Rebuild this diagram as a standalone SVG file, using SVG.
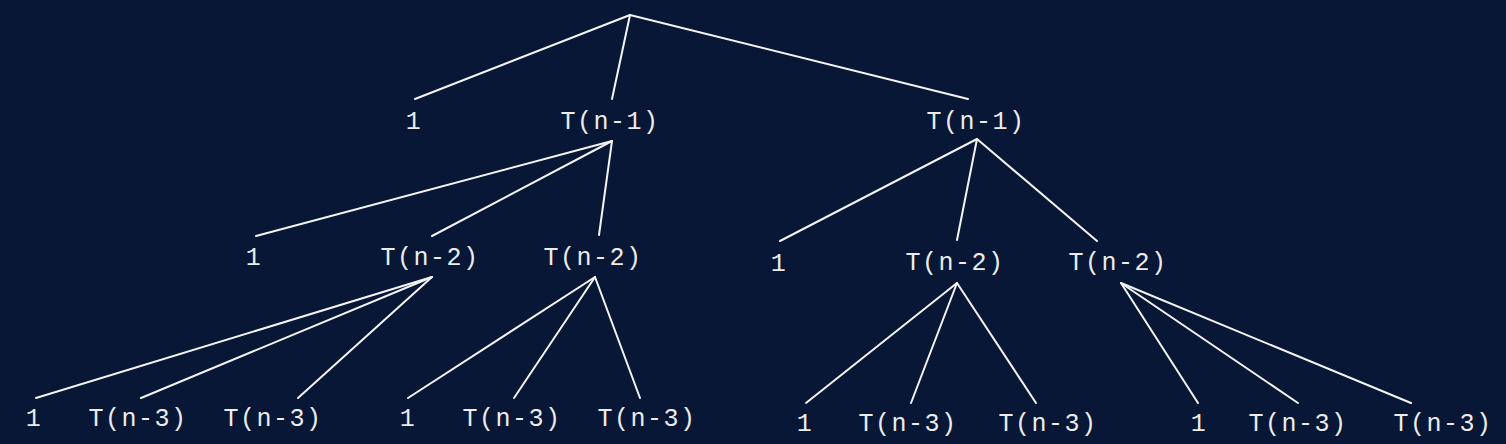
<svg xmlns="http://www.w3.org/2000/svg" width="1506" height="444" viewBox="0 0 1506 444">
<style>
.bg{fill:#081735}
.e line{stroke:#f4f4f4;stroke-width:2;stroke-linecap:round}
text{font-family:"Liberation Mono","Courier New",monospace;font-size:25px;letter-spacing:1.5px;fill:#ececec;text-anchor:middle}
</style>
<rect class="bg" width="1506" height="444"/>
<g id="connectors" class="e">
<line x1="630" y1="15" x2="415" y2="99"/>
<line x1="630" y1="15" x2="612" y2="99"/>
<line x1="630" y1="15" x2="968" y2="99"/>
<line x1="612" y1="141" x2="256" y2="236"/>
<line x1="612" y1="141" x2="432" y2="236"/>
<line x1="612" y1="141" x2="599" y2="235"/>
<line x1="977" y1="139" x2="780" y2="241"/>
<line x1="977" y1="139" x2="957" y2="240"/>
<line x1="977" y1="139" x2="1097" y2="241"/>
<line x1="432" y1="277" x2="36" y2="398"/>
<line x1="432" y1="277" x2="141" y2="398"/>
<line x1="432" y1="277" x2="298" y2="398"/>
<line x1="595" y1="277" x2="408" y2="398"/>
<line x1="595" y1="277" x2="514" y2="398"/>
<line x1="595" y1="277" x2="640" y2="398"/>
<line x1="957" y1="283" x2="806" y2="403"/>
<line x1="957" y1="283" x2="911" y2="403"/>
<line x1="957" y1="283" x2="1036" y2="403"/>
<line x1="1121" y1="283" x2="1198" y2="403"/>
<line x1="1121" y1="283" x2="1298" y2="403"/>
<line x1="1121" y1="283" x2="1411" y2="403"/>
</g>
<g id="n1"><text x="414" y="129">1</text></g>
<g id="n2"><text x="610" y="129">T(n-1)</text></g>
<g id="n3"><text x="976" y="129">T(n-1)</text></g>
<g id="n4"><text x="254" y="265">1</text></g>
<g id="n5"><text x="430" y="265">T(n-2)</text></g>
<g id="n6"><text x="593" y="265">T(n-2)</text></g>
<g id="n7"><text x="779" y="271">1</text></g>
<g id="n8"><text x="955" y="270">T(n-2)</text></g>
<g id="n9"><text x="1118" y="270">T(n-2)</text></g>
<g id="n10"><text x="34" y="426">1</text></g>
<g id="n11"><text x="138" y="426">T(n-3)</text></g>
<g id="n12"><text x="273" y="426">T(n-3)</text></g>
<g id="n13"><text x="408" y="426">1</text></g>
<g id="n14"><text x="512" y="426">T(n-3)</text></g>
<g id="n15"><text x="647" y="426">T(n-3)</text></g>
<g id="n16"><text x="805" y="431">1</text></g>
<g id="n17"><text x="908" y="431">T(n-3)</text></g>
<g id="n18"><text x="1048" y="431">T(n-3)</text></g>
<g id="n19"><text x="1199" y="431">1</text></g>
<g id="n20"><text x="1298" y="431">T(n-3)</text></g>
<g id="n21"><text x="1443" y="431">T(n-3)</text></g>
</svg>
